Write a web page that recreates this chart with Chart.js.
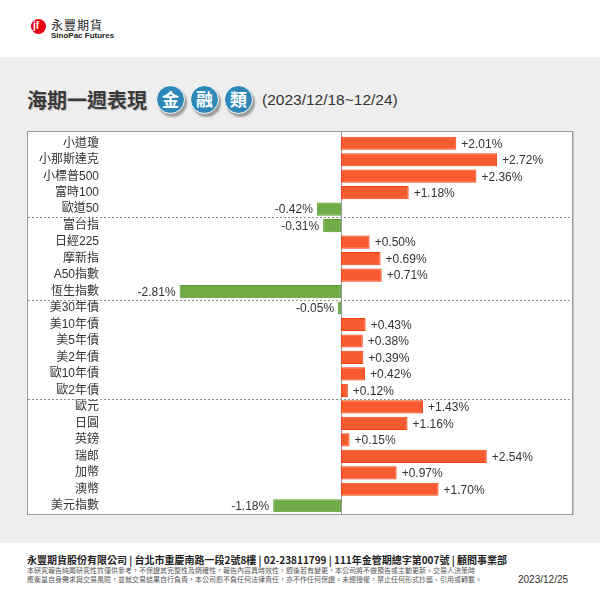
<!DOCTYPE html>
<html>
<head>
<meta charset="utf-8">
<script src="https://cdn.jsdelivr.net/npm/chart.js@4"></script>
<style>
    html, body { margin: 0; padding: 0; }
    body {
        width: 600px; height: 600px; position: relative; overflow: hidden;
        background: #fff;
        font-family: 'Liberation Sans', 'Noto Sans CJK TC', sans-serif;
        color: #333;
    }
    .top { position: absolute; left: 0; top: 0; width: 600px; height: 57px; background: #fff; }
    .logo { position: absolute; left: 31px; top: 19px; width: 15px; height: 15px; border-radius: 50%; background: #e60012; }
    .logo span { position: absolute; left: 2px; top: 1px; color: #fff; font: bold 10px 'Liberation Sans'; }
    .brand { position: absolute; left: 51px; top: 16px; font: 12px 'Noto Sans CJK TC'; color: #222; letter-spacing: 1px; }
    .brand-en { position: absolute; left: 51px; top: 31px; font: bold 8px 'Liberation Sans'; color: #222; }
    .gray { position: absolute; left: 0; top: 57px; width: 600px; height: 486px; background: #eeeeee; }
    .title { position: absolute; left: 27px; top: 85px; font: bold 20px 'Noto Sans CJK TC'; color: #3a3a3a; text-shadow: 1px 1px 1px #bbb; line-height: 30px; }
    .badge { position: absolute; top: 85px; width: 27px; height: 27px; border-radius: 50%; background: #2f88b8;
             color: #fff; font: bold 17px 'Noto Sans CJK TC'; text-align: center; line-height: 26px;
             box-shadow: 2px 3px 2px rgba(0,0,0,0.35); border: 1px solid #fff; }
    .range { position: absolute; left: 262px; top: 91px; font: 15.5px 'Liberation Sans'; color: #333; }
    .panel { position: absolute; left: 27px; top: 131px; width: 546px; height: 384px; box-sizing: border-box;
             background: #fff; border: 1px solid #9a9a9a; box-shadow: 1px 0 0 #c4c4c4; }
    .panel canvas { display: block; }
    .foot1 { position: absolute; left: 27px; top: 552px; font: bold 10px 'Noto Sans CJK TC'; color: #222; white-space: nowrap; }
    .foot2 { position: absolute; left: 27px; top: 566px; font: 7px 'Noto Sans CJK TC'; color: #555; line-height: 9px; white-space: nowrap; }
    .date { position: absolute; left: 518px; top: 574px; font: 10px 'Liberation Sans'; color: #333; }
</style>
</head>
<body>
<div class="top">
    <div class="logo"><span>jf</span></div>
    <div class="brand">永豐期貨</div>
    <div class="brand-en">SinoPac Futures</div>
</div>
<div class="gray"></div>
<div class="title">海期一週表現</div>
<div class="badge" style="left:156px">金</div>
<div class="badge" style="left:190px">融</div>
<div class="badge" style="left:224px">類</div>
<div class="range">(2023/12/18~12/24)</div>
<div class="panel"><canvas id="chart" width="544" height="382"></canvas></div>
<div class="foot1">永豐期貨股份有限公司 | 台北市重慶南路一段2號8樓 | 02-23811799 | 111年金管期總字第007號 | 顧問事業部</div>
<div class="foot2">本研究報告純屬研究性質僅供參考，不保證其完整性及精確性，報告內容具時效性，週後若有變更，本公司將不做預告或主動更新。交易人決策時<br>應衡量自身需求與交易風險，並就交易結果自行負責，本公司恕不負任何法律責任，亦不作任何保證。未經授權，禁止任何形式抄襲、引用或轉載。</div>
<div class="date">2023/12/25</div>

<script>
// 分類與數據 (%)
const indexNames = ['小道瓊', '小那斯達克', '小標普500', '富時100', '歐道50'];
const asiaNames = ['富台指', '日經225', '摩新指', 'A50指數', '恆生指數'];
const bondNames = ['美30年債', '美10年債', '美5年債', '美2年債', '歐10年債', '歐2年債'];
const fxNames = ['歐元', '日圓', '英鎊', '瑞郎', '加幣', '澳幣', '美元指數'];

const indexValues = [2.01, 2.72, 2.36, 1.18, -0.42];
const asiaValues = [-0.31, 0.50, 0.69, 0.71, -2.81];
const bondValues = [-0.05, 0.43, 0.38, 0.39, 0.42, 0.12];
const fxValues = [1.43, 1.16, 0.15, 2.54, 0.97, 1.70, -1.18];

const groups = [indexNames, asiaNames, bondNames, fxNames];
const labels = [].concat(indexNames, asiaNames, bondNames, fxNames);
const values = [].concat(indexValues, asiaValues, bondValues, fxValues);

const UP_FILL = '#f95b30';
const UP_BORDER = '#f2400f';
const DOWN_FILL = '#6fac45';
const DOWN_BORDER = '#5c9a36';

// 零線、分組虛線、數值標籤
const decorPlugin = {
    id: 'decor',
    beforeDatasetsDraw(chart) {
        const ctx = chart.ctx;
        const x = chart.scales.x;
        const y = chart.scales.y;
        ctx.save();
        // 分組虛線
        ctx.strokeStyle = '#8c8c8c';
        ctx.lineWidth = 1;
        ctx.setLineDash([2, 2]);
        let idx = 0;
        groups.slice(0, -1).forEach(g => {
            idx += g.length;
            const py = Math.round((y.getPixelForValue(idx - 1) + y.getPixelForValue(idx)) / 2) + 0.5;
            ctx.beginPath();
            ctx.moveTo(0, py);
            ctx.lineTo(chart.width, py);
            ctx.stroke();
        });
        ctx.setLineDash([]);
        // 零線
        const zx = Math.round(x.getPixelForValue(0)) + 0.5;
        ctx.strokeStyle = '#9a9a9a';
        ctx.beginPath();
        ctx.moveTo(zx, 0);
        ctx.lineTo(zx, chart.height);
        ctx.stroke();
        ctx.restore();
    },
    afterDatasetsDraw(chart) {
        const ctx = chart.ctx;
        const meta = chart.getDatasetMeta(0);
        ctx.save();
        ctx.font = '12px "Liberation Sans", Arial, sans-serif';
        ctx.fillStyle = '#333';
        ctx.textBaseline = 'middle';
        meta.data.forEach((bar, i) => {
            const v = values[i];
            if (v >= 0) {
                ctx.textAlign = 'left';
                ctx.fillText('+' + v.toFixed(2) + '%', bar.x + 5, bar.y + 1);
            } else {
                ctx.textAlign = 'right';
                ctx.fillText(v.toFixed(2) + '%', bar.x - 4, bar.y + 1);
            }
        });
        ctx.restore();
    }
};

new Chart(document.getElementById('chart').getContext('2d'), {
    type: 'bar',
    data: {
        labels: labels,
        datasets: [{
            data: values,
            backgroundColor: values.map(v => v >= 0 ? UP_FILL : DOWN_FILL),
            borderColor: values.map(v => v >= 0 ? UP_BORDER : DOWN_BORDER),
            borderWidth: 1,
            borderSkipped: false,
            barPercentage: 0.8,
            categoryPercentage: 1.0
        }]
    },
    plugins: [decorPlugin],
    options: {
        indexAxis: 'y',
        responsive: false,
        animation: false,
        layout: { padding: { top: 3, bottom: 0, left: 0, right: 4 } },
        plugins: {
            legend: { display: false },
            tooltip: { enabled: false }
        },
        scales: {
            x: {
                display: false,
                min: -4.11,
                max: 3.955
            },
            y: {
                afterFit(scale) {
                    scale.width = 77;
                    scale.paddingTop = 0;
                    scale.paddingBottom = 0;
                },
                grid: { display: false, drawTicks: false },
                border: { display: false },
                ticks: {
                    autoSkip: false,
                    color: '#333',
                    padding: 6,
                    font: { size: 12, family: '"Liberation Sans", "Noto Sans CJK TC", sans-serif' }
                }
            }
        }
    }
});
</script>
</body>
</html>
